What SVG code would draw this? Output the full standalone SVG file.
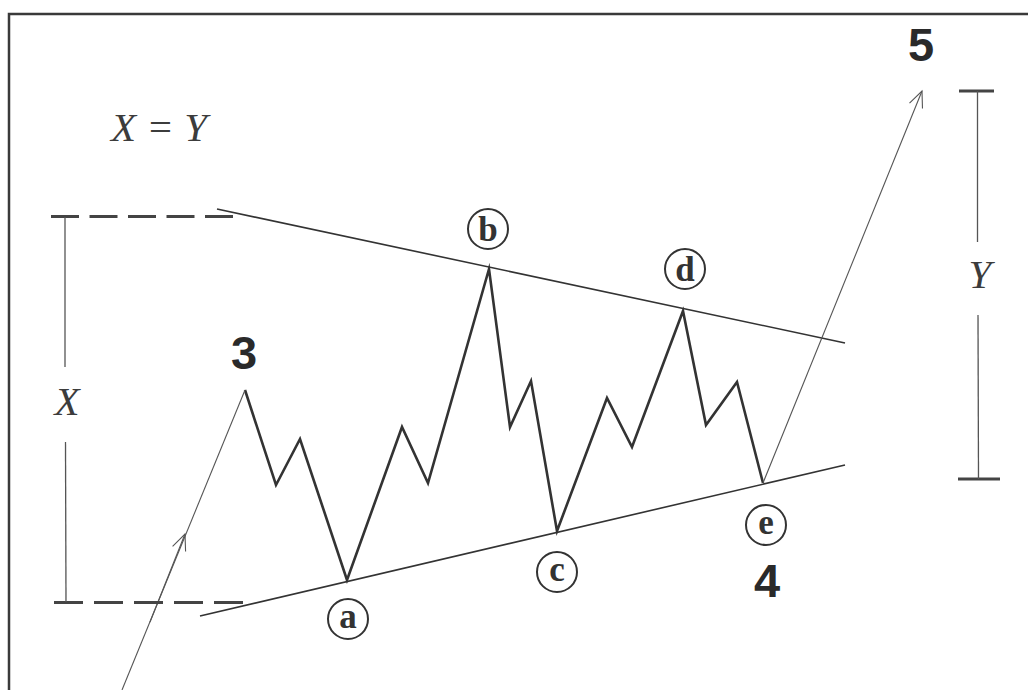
<svg xmlns="http://www.w3.org/2000/svg" width="1028" height="690" viewBox="0 0 1028 690">
  <style>
    .frame { fill: none; stroke: #3a3a3a; stroke-width: 2.5; }
    .wave { fill: none; stroke: #333; stroke-width: 2.6; stroke-linejoin: miter; stroke-miterlimit: 10; }
    .trend { fill: none; stroke: #333; stroke-width: 1.6; }
    .thin { fill: none; stroke: #555; stroke-width: 1.1; }
    .dash { fill: none; stroke: #444; stroke-width: 3; stroke-dasharray: 28 10.5; }
    .dash2 { fill: none; stroke: #444; stroke-width: 3; stroke-dasharray: 29 11; }
    .bar { fill: none; stroke: #555; stroke-width: 1.3; }
    .tick { fill: none; stroke: #444; stroke-width: 3; }
    .circ { fill: #fff; stroke: #333; stroke-width: 2; }
    .letter { font-family: "Liberation Serif", "DejaVu Serif", serif; font-weight: bold; font-size: 35px; fill: #333; text-anchor: middle; }
    .num { font-family: "Liberation Sans", Arial, sans-serif; font-weight: bold; font-size: 47px; fill: #2a2a2a; text-anchor: middle; }
    .ital { font-family: "Liberation Serif", "DejaVu Serif", serif; font-style: italic; font-size: 41px; fill: #3c3c3c; }
  </style>
  <defs>
    <marker id="open" viewBox="0 0 20 20" refX="18" refY="10" markerWidth="20" markerHeight="20" markerUnits="userSpaceOnUse" orient="auto">
      <path d="M2,3 L18,10 L2,17" fill="none" stroke="#555" stroke-width="1.1"/>
    </marker>
  </defs>

  <rect width="1028" height="690" fill="#fff"/>
  <path class="frame" d="M9,690 L9,14 L1028,14"/>

  <g id="connectors">
    <line class="trend" x1="217" y1="209" x2="845" y2="343"/>
    <line class="trend" x1="200" y1="616" x2="845" y2="465"/>
    <polyline class="wave" points="245,390 276,485 300,439 347,580 402,427 428,483 489,269 510,427 531,381 557,531 607,398 632,447 683,311 706,425 737,382 763,483"/>
    <line class="thin" x1="122" y1="690" x2="245" y2="390"/>
    <line class="thin" x1="150" y1="622" x2="185" y2="534" marker-end="url(#open)"/>
    <line class="thin" x1="763" y1="483" x2="922" y2="91" marker-end="url(#open)"/>
    <line class="dash" x1="51" y1="216.5" x2="235" y2="216.5"/>
    <line class="dash2" x1="54" y1="602.5" x2="244" y2="602.5"/>
    <line class="bar" x1="65" y1="217" x2="65" y2="367"/>
    <line class="bar" x1="65.5" y1="442" x2="66" y2="602"/>
    <line class="tick" x1="959" y1="91" x2="994" y2="91"/>
    <line class="tick" x1="958" y1="479" x2="1000" y2="479"/>
    <line class="bar" x1="977.5" y1="91" x2="977.5" y2="242"/>
    <line class="bar" x1="978" y1="315" x2="978.5" y2="479"/>
  </g>

  <g id="node-a"><circle class="circ" cx="348" cy="619" r="20"/><text class="letter" x="348" y="628">a</text></g>
  <g id="node-b"><circle class="circ" cx="488" cy="229" r="20"/><text class="letter" x="488" y="241">b</text></g>
  <g id="node-c"><circle class="circ" cx="557" cy="572" r="20"/><text class="letter" x="557" y="581">c</text></g>
  <g id="node-d"><circle class="circ" cx="685" cy="269" r="20"/><text class="letter" x="685" y="281">d</text></g>
  <g id="node-e"><circle class="circ" cx="766" cy="525" r="20"/><text class="letter" x="766" y="534">e</text></g>

  <g id="label-3"><text class="num" x="244" y="369">3</text></g>
  <g id="label-4"><text class="num" x="767" y="597">4</text></g>
  <g id="label-5"><text class="num" x="921" y="61">5</text></g>

  <g id="label-xy"><text class="ital" x="111" y="141">X = Y</text></g>
  <g id="label-x"><text class="ital" x="67" y="415" text-anchor="middle">X</text></g>
  <g id="label-y"><text class="ital" x="980" y="288" text-anchor="middle">Y</text></g>
</svg>
